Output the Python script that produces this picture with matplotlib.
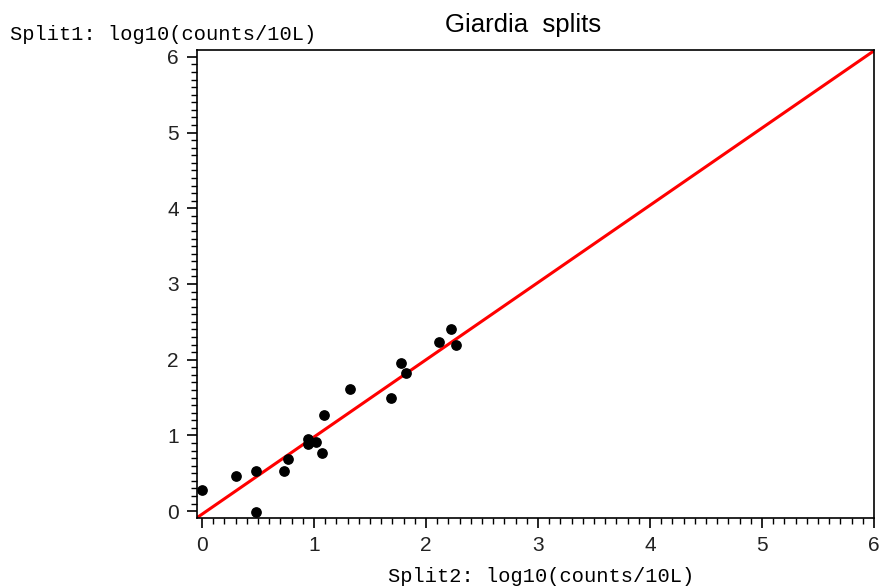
import numpy as np
import matplotlib.pyplot as plt
from matplotlib.ticker import MultipleLocator

# Giardia split samples, log10(counts/10L)
split2 = [0.00, 0.30, 0.48, 0.48, 0.735, 0.77, 0.95, 0.95, 1.02, 1.07,
          1.09, 1.32, 1.69, 1.78, 1.82, 2.12, 2.22, 2.27]
split1 = [0.28, 0.47, 0.53, -0.01, 0.53, 0.69, 0.95, 0.89, 0.92, 0.77,
          1.27, 1.62, 1.50, 1.96, 1.83, 2.23, 2.41, 2.20]

# fitted line
fit_slope = 1.02
fit_icpt = -0.04
fit_x = [-0.05, 6.1]

fig = plt.figure(figsize=(8.82, 5.87), dpi=100)
ax = fig.add_axes([197/882, 69/587, 677/882, 468/587])

xs = np.array(fit_x)
ax.plot(xs, fit_slope*xs + fit_icpt, color="#ff0000", linewidth=2.2, zorder=2)
ax.scatter(split2, split1, s=45, color="black", zorder=3)

ax.set_xlim(-0.045, 6.0)
ax.set_ylim(-0.09, 6.09)
ax.xaxis.set_major_locator(MultipleLocator(1))
ax.yaxis.set_major_locator(MultipleLocator(1))
ax.xaxis.set_minor_locator(MultipleLocator(0.1))
ax.yaxis.set_minor_locator(MultipleLocator(0.1))
ax.tick_params(which="major", direction="out", length=7, width=1.2,
               labelsize=15, pad=6, labelcolor="#222222")
ax.tick_params(which="minor", direction="out", length=4, width=1)
for lab in ax.get_xticklabels() + ax.get_yticklabels():
    lab.set_fontfamily("Liberation Sans")
for sp in ax.spines.values():
    sp.set_linewidth(1.2)

fig.text(523/882, 1 - 25/587, "Giardia  splits", ha="center", va="center",
         fontsize=18.5, family="Liberation Sans")
fig.text(10/882, 1 - 35/587, "Split1: log10(counts/10L)", ha="left",
         va="center", fontsize=14.7, family="Liberation Mono")
fig.text(541/882, 1 - 576/587, "Split2: log10(counts/10L)", ha="center",
         va="center", fontsize=14.7, family="Liberation Mono")

fig.savefig("out.png", dpi=100)
